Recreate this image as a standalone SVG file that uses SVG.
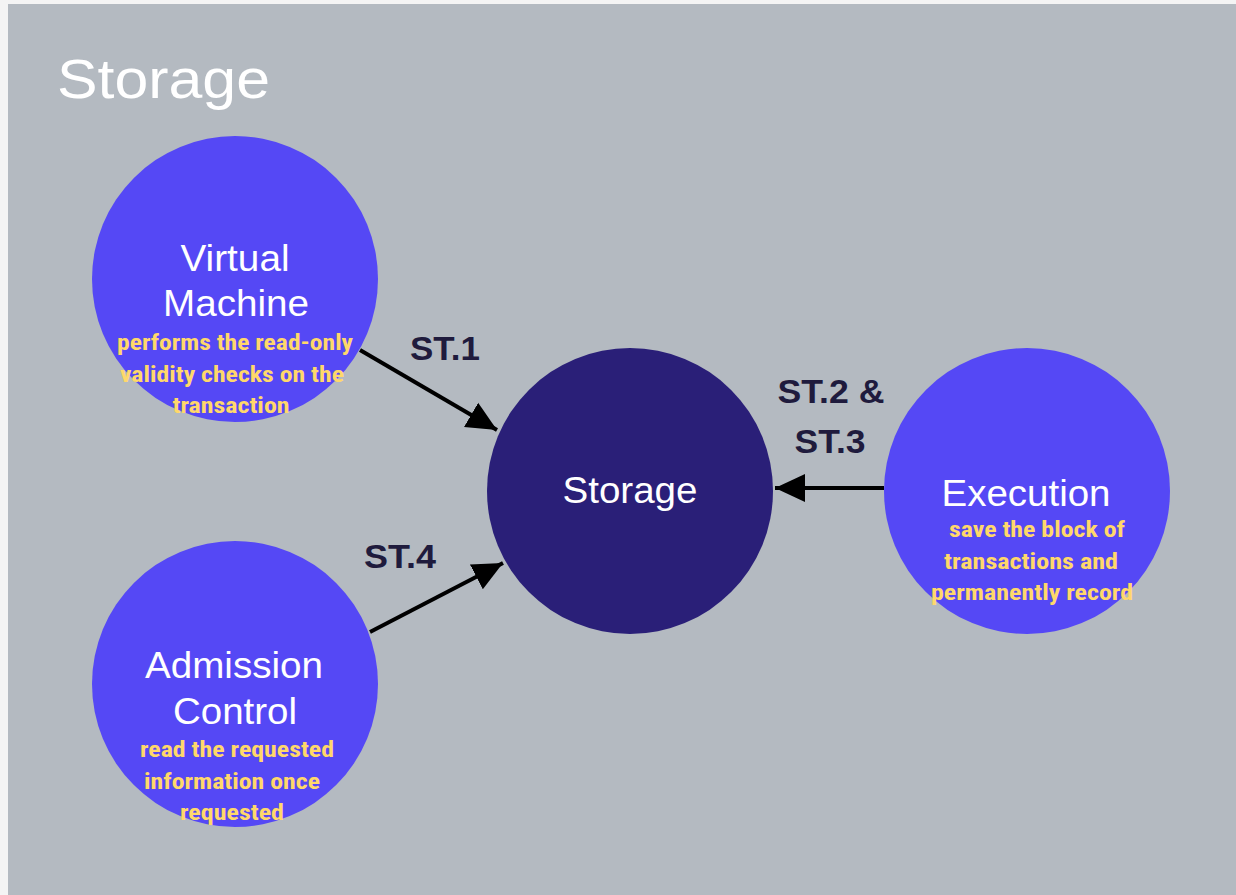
<svg xmlns="http://www.w3.org/2000/svg" width="1236" height="895" viewBox="0 0 1236 895">
<defs>
<style>
.bg{fill:#b4bac1}
.node{fill:#5548f5}
.core{fill:#2a1f78}
.t{font-family:"Liberation Sans",Arial,sans-serif;font-size:36px;fill:#ffffff;text-anchor:middle}
.d{font-family:"Roboto Condensed","Liberation Sans Narrow","Liberation Sans",Arial,sans-serif;font-weight:bold;font-size:22px;fill:#ffd86a;text-anchor:middle}
.e{font-family:"Liberation Sans",Arial,sans-serif;font-weight:bold;font-size:33px;fill:#1f1b3d;text-anchor:middle}
.c{stroke:#000;stroke-width:4;fill:none}
</style>
<marker id="ah" markerUnits="userSpaceOnUse" markerWidth="32" markerHeight="30" refX="30" refY="15" orient="auto" viewBox="0 0 32 30">
<path d="M0,1 L30,15 L0,29 Z" fill="#000"/>
</marker>
</defs>
<rect x="0" y="0" width="1236" height="895" fill="#f4f4f4"/>
<rect class="bg" x="8" y="4" width="1228" height="891"/>
<text x="57" y="98" font-family="'Liberation Sans',Arial,sans-serif" font-size="56" fill="#ffffff" textLength="213" lengthAdjust="spacingAndGlyphs">Storage</text>
<g id="connectors">
<line class="c" x1="360" y1="350" x2="497" y2="430" marker-end="url(#ah)"/>
<line class="c" x1="884" y1="488" x2="775" y2="488" marker-end="url(#ah)"/>
<line class="c" x1="370" y1="632" x2="503" y2="563" marker-end="url(#ah)"/>
<text class="e" x="445" y="360" textLength="70" lengthAdjust="spacingAndGlyphs">ST.1</text>
<text class="e" x="831" y="403" textLength="107" lengthAdjust="spacingAndGlyphs">ST.2 &amp;</text>
<text class="e" x="830" y="453" textLength="71" lengthAdjust="spacingAndGlyphs">ST.3</text>
<text class="e" x="400" y="568" textLength="72" lengthAdjust="spacingAndGlyphs">ST.4</text>
</g>
<g id="vm">
<circle class="node" cx="235" cy="279" r="143"/>
<text class="t" x="235" y="271" textLength="109" lengthAdjust="spacingAndGlyphs">Virtual</text>
<text class="t" x="236" y="316" textLength="146" lengthAdjust="spacingAndGlyphs">Machine</text>
<text class="d" x="235" y="350" textLength="236" lengthAdjust="spacingAndGlyphs">performs the read-only</text>
<text class="d" x="232" y="382" textLength="224" lengthAdjust="spacingAndGlyphs">validity checks on the</text>
<text class="d" x="231" y="413" textLength="117" lengthAdjust="spacingAndGlyphs">transaction</text>
</g>
<g id="storage">
<circle class="core" cx="630" cy="491" r="143"/>
<text class="t" x="630" y="503" textLength="135" lengthAdjust="spacingAndGlyphs">Storage</text>
</g>
<g id="execution">
<circle class="node" cx="1027" cy="491" r="143"/>
<text class="t" x="1026" y="506" textLength="169" lengthAdjust="spacingAndGlyphs">Execution</text>
<text class="d" x="1037" y="537" textLength="176" lengthAdjust="spacingAndGlyphs">save the block of</text>
<text class="d" x="1031" y="569" textLength="174" lengthAdjust="spacingAndGlyphs">transactions and</text>
<text class="d" x="1032" y="600" textLength="202" lengthAdjust="spacingAndGlyphs">permanently record</text>
</g>
<g id="admission">
<circle class="node" cx="235" cy="684" r="143"/>
<text class="t" x="234" y="678" textLength="178" lengthAdjust="spacingAndGlyphs">Admission</text>
<text class="t" x="235" y="724" textLength="124" lengthAdjust="spacingAndGlyphs">Control</text>
<text class="d" x="237" y="757" textLength="194" lengthAdjust="spacingAndGlyphs">read the requested</text>
<text class="d" x="232" y="789" textLength="176" lengthAdjust="spacingAndGlyphs">information once</text>
<text class="d" x="232" y="820" textLength="104" lengthAdjust="spacingAndGlyphs">requested</text>
</g>
</svg>
